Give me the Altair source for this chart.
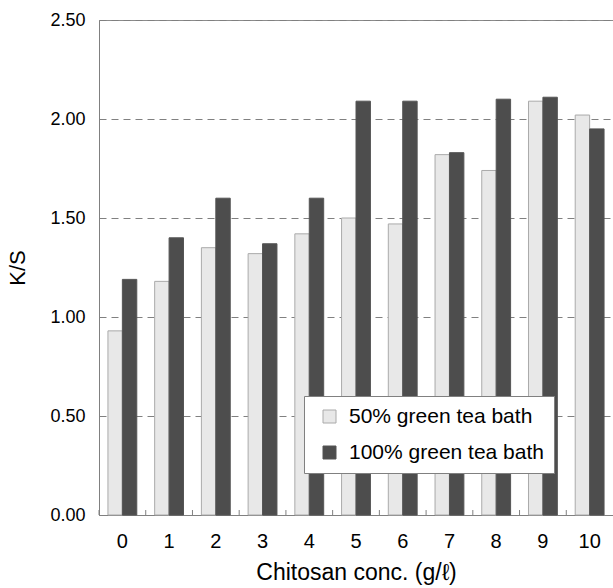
import altair as alt
import pandas as pd

conc = ["0", "1", "2", "3", "4", "5", "6", "7", "8", "9", "10"]
series_names = ["50% green tea bath", "100% green tea bath"]
values_50 = [0.93, 1.18, 1.35, 1.32, 1.42, 1.50, 1.47, 1.82, 1.74, 2.09, 2.02]
values_100 = [1.19, 1.40, 1.60, 1.37, 1.60, 2.09, 2.09, 1.83, 2.10, 2.11, 1.95]
y_ticks = [0.0, 0.5, 1.0, 1.5, 2.0, 2.5]

rows = []
for c, a, b in zip(conc, values_50, values_100):
    rows.append({"conc": c, "series": series_names[0], "ks": a})
    rows.append({"conc": c, "series": series_names[1], "ks": b})
df = pd.DataFrame(rows)

FONT = "Liberation Sans"
W, H = 514, 495

xscale = alt.Scale(domain=conc, paddingInner=0, paddingOuter=0)

bars = alt.Chart(df).mark_bar(strokeWidth=1).encode(
    x=alt.X("conc:N", sort=conc, scale=xscale,
            axis=alt.Axis(title="Chitosan conc. (g/\u2113)", labelAngle=0, ticks=False,
                          labelFontSize=20, titleFontSize=23, labelPadding=16,
                          titlePadding=10, domainColor="#808080", labelColor="#000",
                          titleColor="#000", titleFontWeight="normal", grid=False)),
    xOffset=alt.XOffset("series:N", sort=series_names,
                        scale=alt.Scale(paddingInner=0, paddingOuter=0.62)),
    y=alt.Y("ks:Q", scale=alt.Scale(domain=[0, 2.5], nice=False),
            axis=alt.Axis(title="K/S", values=y_ticks, format=".2f", ticks=False,
                          labelFontSize=18, titleFontSize=22, labelPadding=14,
                          titlePadding=20, domainColor="#808080", labelColor="#000",
                          titleColor="#000", titleFontWeight="normal",
                          grid=True, gridColor="#808080", gridDash=[7, 5],
                          gridWidth=1)),
    fill=alt.Fill("series:N", sort=series_names,
                  scale=alt.Scale(domain=series_names, range=["#e8e8e8", "#4d4d4d"]),
                  legend=alt.Legend(title=None, orient="none", legendX=205, legendY=376,
                                    padding=10, strokeColor="#808080", fillColor="white",
                                    symbolType="square", symbolSize=169,
                                    symbolStrokeColor="#888", symbolStrokeWidth=1,
                                    symbolOffset=5, labelOffset=9, labelLimit=400,
                                    labelFontSize=21, labelColor="#000", rowPadding=14,
                                    labelFont=FONT)),
    stroke=alt.Stroke("series:N", sort=series_names,
                      scale=alt.Scale(domain=series_names, range=["#aaaaaa", "#555555"]),
                      legend=None),
)

ticks = alt.Chart(pd.DataFrame({"conc": conc})).mark_rule(color="#808080", strokeWidth=1).encode(
    x=alt.X("conc:N", sort=conc, scale=xscale, bandPosition=0),
    y=alt.value(H - 5),
    y2=alt.value(H),
)

chart = alt.layer(bars, ticks).properties(
    width=W, height=H,
    autosize=alt.AutoSizeParams(type="none"),
    padding={"left": 99, "top": 20, "right": 0, "bottom": 73},
    background="white",
).configure_view(
    stroke="#8c8c8c", strokeWidth=1
).configure_axis(
    labelFont=FONT, titleFont=FONT
).configure_legend(
    labelFont=FONT
)

chart.save("out.html", embed_options={"renderer": "svg", "actions": False})
